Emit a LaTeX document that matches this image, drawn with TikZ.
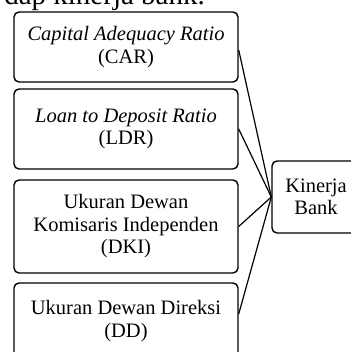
\documentclass[tikz,border=0pt]{standalone}
\usepackage{fontspec}
\setmainfont{Liberation Serif}
\begin{document}
\begin{tikzpicture}[x=1pt,y=-1pt,
  box/.style={draw=black, line width=1.4pt, rounded corners=5pt, align=center,
    minimum width=224pt, inner sep=0pt, font=\fontsize{20.5}{22.5}\selectfont},
  conn/.style={draw=black, line width=1.2pt}]
\useasboundingbox (0,0) rectangle (350,352);
\node[anchor=base east, inner sep=0pt, font=\fontsize{29}{32}\selectfont] (top) at (205,5) {dap kinerja bank.};
\node[box, minimum height=70pt] (b1) at (126,47) {\textit{Capital Adequacy Ratio}\\(CAR)};
\node[box, minimum height=80pt] (b2) at (126,129) {\textit{Loan to Deposit Ratio}\\(LDR)};
\node[box, minimum height=93pt] (b3) at (126,226.5) {Ukuran Dewan\\Komisaris Independen\\(DKI)};
\node[box, minimum height=76pt] (b4) at (126,321) {Ukuran Dewan Direksi\\(DD)};
\node[box, minimum width=88pt, minimum height=72pt] (kb) at (316,197) {Kinerja\\Bank};
\draw[conn] ([yshift=-3pt]b1.east) -- (kb.west);
\draw[conn] (b2.east) -- (kb.west);
\draw[conn] (b3.east) -- (kb.west);
\draw[conn] ([yshift=7pt]b4.east) -- (kb.west);
\end{tikzpicture}
\end{document}
